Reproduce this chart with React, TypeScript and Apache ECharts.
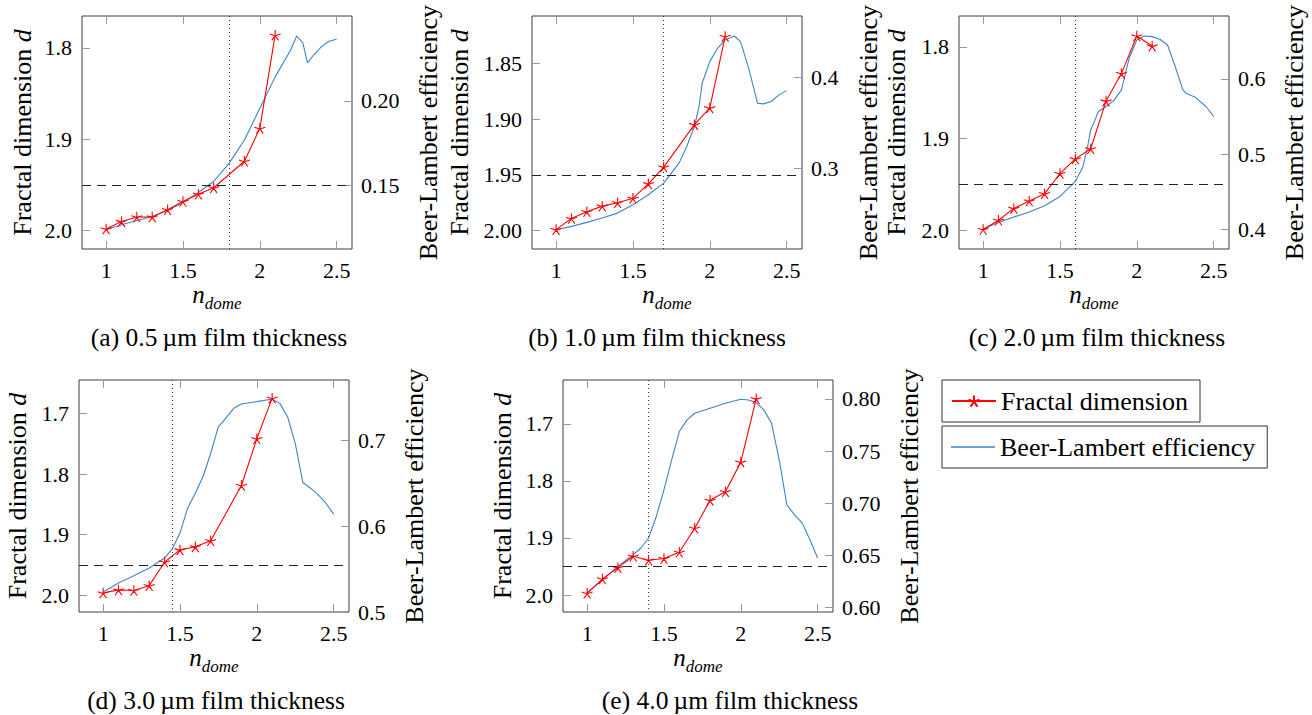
import React, { useEffect, useRef } from 'react';
import * as echarts from 'echarts';

const FONT = 'Liberation Serif';
const RED = '#ff0000';
const BLUE = '#3d84c6';
const STAR = 'path://M0,-10L0,0M-9.51,-3.09L0,0M-5.88,8.09L0,0M5.88,8.09L0,0M9.51,-3.09L0,0';

// ---------- data ----------
const xTicks = [1, 1.5, 2, 2.5];
const thresholdD = 1.95;

// (a) 0.5 um
const nFractalA = [1, 1.1, 1.2, 1.3, 1.4, 1.5, 1.6, 1.7, 1.9, 2.0, 2.1];
const fractalA = [1.998, 1.99, 1.985, 1.985, 1.977, 1.968, 1.96, 1.953, 1.924, 1.888, 1.786];
const nBeerA = [1, 1.1, 1.2, 1.3, 1.4, 1.5, 1.6, 1.7, 1.8, 1.9, 2.0, 2.1, 2.2, 2.24, 2.28, 2.31, 2.35, 2.4, 2.45, 2.5];
const beerA = [0.1239, 0.1269, 0.1294, 0.1318, 0.1353, 0.14, 0.1459, 0.1524, 0.1631, 0.1769, 0.1955, 0.2141, 0.2298, 0.2382, 0.2341, 0.2224, 0.227, 0.2318, 0.2351, 0.2363];

// (b) 1.0 um
const nFractalB = [1, 1.1, 1.2, 1.3, 1.4, 1.5, 1.6, 1.7, 1.9, 2.0, 2.1];
const fractalB = [1.999, 1.989, 1.983, 1.978, 1.975, 1.971, 1.958, 1.943, 1.905, 1.89, 1.826];
const nBeerB = [1, 1.1, 1.2, 1.3, 1.4, 1.5, 1.6, 1.7, 1.8, 1.85, 1.9, 1.93, 1.95, 2.0, 2.05, 2.1, 2.16, 2.2, 2.25, 2.3, 2.31, 2.35, 2.4, 2.45, 2.5];
const beerB = [0.2322, 0.2359, 0.2403, 0.2451, 0.2505, 0.2597, 0.2707, 0.2835, 0.3055, 0.3238, 0.3458, 0.3678, 0.3934, 0.4172, 0.4319, 0.441, 0.4454, 0.4392, 0.4117, 0.3788, 0.3714, 0.3707, 0.3733, 0.3806, 0.3853];

// (c) 2.0 um
const nFractalC = [1, 1.1, 1.2, 1.3, 1.4, 1.5, 1.6, 1.7, 1.8, 1.9, 2.0, 2.1];
const fractalC = [1.999, 1.989, 1.976, 1.968, 1.96, 1.938, 1.922, 1.911, 1.859, 1.829, 1.788, 1.799];
const nBeerC = [1, 1.1, 1.2, 1.3, 1.4, 1.5, 1.6, 1.65, 1.68, 1.7, 1.72, 1.75, 1.8, 1.85, 1.9, 1.95, 2.0, 2.05, 2.1, 2.15, 2.2, 2.25, 2.3, 2.32, 2.38, 2.45, 2.5];
const beerC = [0.4, 0.4093, 0.4164, 0.423, 0.4314, 0.4438, 0.4637, 0.4836, 0.51, 0.5323, 0.5412, 0.5566, 0.5633, 0.5712, 0.5854, 0.6274, 0.6518, 0.6571, 0.6562, 0.6527, 0.6451, 0.6164, 0.5854, 0.581, 0.5757, 0.5633, 0.55];

// (d) 3.0 um
const nFractalD = [1, 1.1, 1.2, 1.3, 1.4, 1.5, 1.6, 1.7, 1.9, 2.0, 2.1];
const fractalD = [1.996, 1.991, 1.992, 1.984, 1.945, 1.925, 1.92, 1.91, 1.819, 1.742, 1.675];
const nBeerD = [1, 1.1, 1.2, 1.3, 1.4, 1.45, 1.5, 1.55, 1.6, 1.65, 1.7, 1.75, 1.78, 1.85, 1.9, 2.0, 2.1, 2.15, 2.2, 2.25, 2.3, 2.35, 2.4, 2.45, 2.5];
const beerD = [0.5233, 0.5337, 0.5422, 0.5512, 0.5628, 0.5736, 0.5919, 0.6209, 0.6384, 0.6578, 0.6849, 0.7159, 0.7217, 0.7372, 0.7422, 0.745, 0.7481, 0.743, 0.7275, 0.6965, 0.6508, 0.6442, 0.6364, 0.6267, 0.614];

// (e) 4.0 um
const nFractalE = [1, 1.1, 1.2, 1.3, 1.4, 1.5, 1.6, 1.7, 1.8, 1.9, 2.0, 2.1];
const fractalE = [1.997, 1.972, 1.952, 1.932, 1.939, 1.936, 1.925, 1.883, 1.834, 1.819, 1.767, 1.656];
const nBeerE = [1, 1.1, 1.2, 1.3, 1.35, 1.4, 1.45, 1.5, 1.55, 1.6, 1.65, 1.7, 1.8, 1.9, 2.0, 2.05, 2.1, 2.15, 2.2, 2.25, 2.3, 2.35, 2.4, 2.45, 2.5];
const beerE = [0.6137, 0.6265, 0.6393, 0.6505, 0.6569, 0.6665, 0.6872, 0.7128, 0.7415, 0.7687, 0.7799, 0.7863, 0.7911, 0.7958, 0.7997, 0.799, 0.7965, 0.7895, 0.7767, 0.7415, 0.6984, 0.6888, 0.6808, 0.6649, 0.6473];

const leftTicksA = [1.8, 1.9, 2.0];
const rightTicksA = [0.15, 0.2];
const leftTicksB = [1.85, 1.9, 1.95, 2.0];
const rightTicksB = [0.3, 0.4];
const leftTicksC = [1.8, 1.9, 2.0];
const rightTicksC = [0.4, 0.5, 0.6];
const leftTicksD = [1.7, 1.8, 1.9, 2.0];
const rightTicksD = [0.5, 0.6, 0.7];
const leftTicksE = [1.7, 1.8, 1.9, 2.0];
const rightTicksE = [0.6, 0.65, 0.7, 0.75, 0.8];

const captions = [
  '(a) 0.5\u2009µm film thickness',
  '(b) 1.0\u2009µm film thickness',
  '(c) 2.0\u2009µm film thickness',
  '(d) 3.0\u2009µm film thickness',
  '(e) 4.0\u2009µm film thickness',
];
const vLines = [1.8, 1.7, 1.6, 1.45, 1.4];

// ---------- layout ----------
const panels = [
  { grid: { left: 82, top: 16, width: 270, height: 233 }, nF: nFractalA, f: fractalA, nB: nBeerA, b: beerA,
    lRange: [1.765, 2.02], lTicks: leftTicksA, lDec: 1, rRange: [0.1126, 0.25], rTicks: rightTicksA, rDec: 2,
    lGap: 47, rGap: 63, cap: [219, 337] },
  { grid: { left: 532, top: 16, width: 270, height: 233 }, nF: nFractalB, f: fractalB, nB: nBeerB, b: beerB,
    lRange: [1.8077, 2.0164], lTicks: leftTicksB, lDec: 2, rRange: [0.211, 0.4674], rTicks: rightTicksB, rDec: 1,
    lGap: 60, rGap: 53, cap: [657, 337] },
  { grid: { left: 959, top: 16, width: 270, height: 233 }, nF: nFractalC, f: fractalC, nB: nBeerC, b: beerC,
    lRange: [1.7662, 2.0203], lTicks: leftTicksC, lDec: 1, rRange: [0.3739, 0.6836], rTicks: rightTicksC, rDec: 1,
    lGap: 50, rGap: 52, cap: [1097, 337] },
  { grid: { left: 79, top: 380, width: 270, height: 232 }, nF: nFractalD, f: fractalD, nB: nBeerD, b: beerD,
    lRange: [1.6451, 2.0274], lTicks: leftTicksD, lDec: 1, rRange: [0.5, 0.7702], rTicks: rightTicksD, rDec: 1,
    lGap: 49, rGap: 52, cap: [216, 700] },
  { grid: { left: 563, top: 380, width: 270, height: 232 }, nF: nFractalE, f: fractalE, nB: nBeerE, b: beerE,
    lRange: [1.623, 2.0298], lTicks: leftTicksE, lDec: 1, rRange: [0.5955, 0.8182], rTicks: rightTicksE, rDec: 2,
    lGap: 48, rGap: 63, cap: [730, 700] },
];

const tickStyle = { color: '#9a9a9a', width: 1 };
const labelStyle = { fontFamily: FONT, fontSize: 22, color: '#000' };
const NAME_SIZE = 26;

function buildOption() {
  const grid: any[] = [];
  const xAxis: any[] = [];
  const yAxis: any[] = [];
  const series: any[] = [];
  const graphic: any[] = [];

  panels.forEach((p, i) => {
    grid.push({ ...p.grid, show: true, borderColor: '#3c3c3c', borderWidth: 1, backgroundColor: 'transparent' });
    xAxis.push({
      type: 'value', gridIndex: i, position: 'bottom', min: 0.843, max: 2.6,
      axisLine: { show: false }, splitLine: { show: false },
      axisTick: { show: true, inside: true, length: 8, lineStyle: tickStyle, customValues: xTicks },
      axisLabel: { ...labelStyle, margin: 10, customValues: xTicks, formatter: (v: number) => String(v) },
      name: '{n|n}{s|dome}', nameLocation: 'middle', nameGap: 30,
      nameTextStyle: {
        fontFamily: FONT,
        rich: {
          n: { fontFamily: FONT, fontStyle: 'italic', fontSize: 25, color: '#000', verticalAlign: 'bottom', padding: [0, 0, 5, 0] },
          s: { fontFamily: FONT, fontStyle: 'italic', fontSize: 17, color: '#000', verticalAlign: 'bottom' },
        },
      },
    });
    xAxis.push({
      type: 'value', gridIndex: i, position: 'top', min: 0.843, max: 2.6,
      axisLine: { show: false }, splitLine: { show: false }, axisLabel: { show: false },
      axisTick: { show: true, inside: true, length: 8, lineStyle: tickStyle, customValues: xTicks },
    });
    yAxis.push({
      type: 'value', gridIndex: i, position: 'left', inverse: true, min: p.lRange[0], max: p.lRange[1],
      axisLine: { show: false }, splitLine: { show: false },
      axisTick: { show: true, inside: true, length: 8, lineStyle: tickStyle, customValues: p.lTicks },
      axisLabel: { ...labelStyle, margin: 10, customValues: p.lTicks, formatter: (v: number) => v.toFixed(p.lDec) },
      name: 'Fractal dimension {d|d}', nameLocation: 'middle', nameRotate: 90, nameGap: p.lGap,
      nameTextStyle: { fontFamily: FONT, fontSize: NAME_SIZE, color: '#000',
        rich: { d: { fontFamily: FONT, fontStyle: 'italic', fontSize: NAME_SIZE, color: '#000' } } },
    });
    yAxis.push({
      type: 'value', gridIndex: i, position: 'right', min: p.rRange[0], max: p.rRange[1],
      axisLine: { show: false }, splitLine: { show: false },
      axisTick: { show: true, inside: true, length: 8, lineStyle: tickStyle, customValues: p.rTicks },
      axisLabel: { ...labelStyle, margin: 9, customValues: p.rTicks, formatter: (v: number) => v.toFixed(p.rDec) },
      name: 'Beer-Lambert efficiency', nameLocation: 'middle', nameRotate: 90, nameGap: p.rGap,
      nameTextStyle: { fontFamily: FONT, fontSize: NAME_SIZE, color: '#000' },
    });
    series.push({
      type: 'line', name: 'Beer-Lambert efficiency', xAxisIndex: 2 * i, yAxisIndex: 2 * i + 1,
      data: p.nB.map((n, k) => [n, p.b[k]]), symbol: 'none', color: BLUE,
      lineStyle: { color: BLUE, width: 1.1 }, z: 2,
    });
    series.push({
      type: 'line', name: 'Fractal dimension', xAxisIndex: 2 * i, yAxisIndex: 2 * i,
      data: p.nF.map((n, k) => [n, p.f[k]]), symbol: STAR, symbolSize: 11, symbolKeepAspect: true,
      color: RED, lineStyle: { color: RED, width: 1.1 },
      itemStyle: { color: RED, borderColor: RED, borderWidth: 1.1 }, z: 3,
      markLine: {
        silent: true, symbol: ['none', 'none'], label: { show: false },
        data: [
          { xAxis: vLines[i], lineStyle: { type: [1, 3], color: '#333', width: 1 } },
          { yAxis: thresholdD, lineStyle: { type: [9, 6], color: '#222', width: 1 } },
        ],
      },
    });
    graphic.push({
      type: 'text', x: p.cap[0], y: p.cap[1],
      style: { text: captions[i], fontFamily: FONT, fontSize: 25.5, fill: '#000', align: 'center', verticalAlign: 'middle' },
    });
  });

  const legendBase = {
    orient: 'horizontal', borderColor: '#333', borderWidth: 1, borderRadius: 0,
    padding: [8, 12, 8, 9], itemWidth: 44, itemHeight: 14, selectedMode: false,
    textStyle: { fontFamily: FONT, fontSize: 26, color: '#000' },
  };

  return {
    animation: false,
    backgroundColor: '#fff',
    textStyle: { fontFamily: FONT },
    grid, xAxis, yAxis, series, graphic,
    legend: [
      { ...legendBase, data: ['Fractal dimension'], left: 942, top: 380 },
      { ...legendBase, data: [{ name: 'Beer-Lambert efficiency', icon: 'rect' }], itemHeight: 1.3, left: 942, top: 426 },
    ],
  };
}

export default function App() {
  const ref = useRef<HTMLDivElement>(null);
  useEffect(() => {
    if (!ref.current) return;
    const chart = echarts.init(ref.current, null, { renderer: 'svg' });
    chart.setOption(buildOption() as any);
    return () => chart.dispose();
  }, []);
  return <div ref={ref} style={{ position: 'absolute', left: 0, top: 0, width: 1312, height: 715 }} />;
}
